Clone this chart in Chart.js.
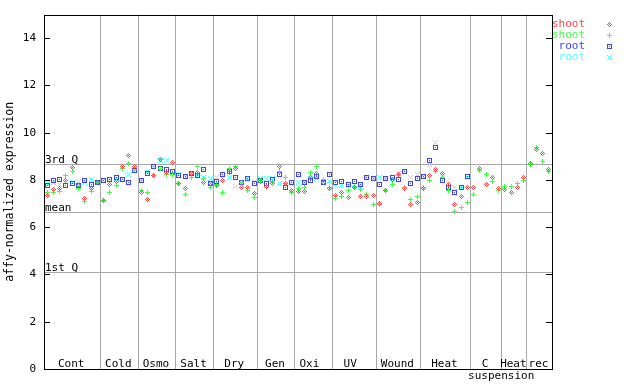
<!DOCTYPE html>
<html><head><meta charset="utf-8">
<script src="https://cdn.jsdelivr.net/npm/chart.js@4/dist/chart.umd.min.js"></script>
<style>html,body{margin:0;padding:0;background:#fff}</style>
</head><body>
<canvas id="c" width="640" height="384"></canvas>
<script>
// ---- data ----
const groupNames = ['Cont','Cold','Osmo','Salt','Dry','Gen','Oxi ','UV ','Wound','Heat','C','Heat','rec'];
const groupSubNames = ['','','','','','','','','','','suspension','',''];
const groupSizes = [9,6,6,6,7,6,6,7,7,8,5,4,4];
const quartileValues = [8.69, 6.63, 4.09];
const quartileNames = ['3rd Q','mean','1st Q'];
const seriesLabels = ['shoot','shoot','root','root'];
const yTickStep = 2;

const shootRed = [7.35,7.6,7.65,7.97,8.53,7.77,7.22,7.63,7.88,
 7.13,7.8,7.94,8.57,9.02,8.57,
 7.46,7.17,8.2,8.86,8.33,8.73,
 7.84,7.66,8.26,8.33,7.88,7.87,
 7.77,7.98,8.33,8.48,7.7,7.67,7.42,
 7.94,7.74,7.87,8.55,7.87,7.56,
 7.53,7.52,8.12,8.26,7.88,7.63,
 7.35,7.45,7.24,7.7,7.28,7.31,7.35,
 7.0,7.56,8.01,8.22,7.63,6.96,7.04,
 7.63,8.19,8.45,8.26,7.81,6.96,7.28,7.67,
 7.67,8.48,7.8,8.12,7.63,
 7.59,7.46,7.67,8.12,
 8.69,9.29,9.11,8.43];
const shootGreen = [7.45,7.46,7.53,8.18,8.38,7.66,7.08,7.53,7.88,
 7.13,7.46,7.76,8.48,8.69,8.43,
 7.56,7.46,8.2,8.48,8.24,8.22,
 7.84,7.38,8.1,8.57,8.05,7.7,
 7.8,7.46,8.5,8.58,7.91,7.56,7.25,
 7.98,7.7,7.95,8.36,8.09,7.46,
 7.63,7.67,8.3,8.57,8.01,7.7,
 7.21,7.31,7.56,7.7,7.6,7.39,6.96,
 6.96,7.56,7.8,8.22,7.7,7.18,7.28,
 7.67,7.98,8.34,8.12,7.56,6.68,6.82,7.04,
 7.38,8.41,8.22,7.95,7.56,
 7.74,7.74,7.84,7.98,
 8.64,9.39,8.78,8.34];
const rootBlue = [7.78,7.97,8.01,7.76,7.86,7.75,7.97,7.8,7.91,
 7.97,8.01,8.1,8.01,7.91,8.41,
 7.98,8.26,8.57,8.48,8.43,8.34,
 8.19,8.14,8.27,8.17,8.43,7.84,
 7.94,8.22,8.35,8.12,7.91,8.08,7.87,
 7.97,7.87,8.03,8.22,7.67,7.91,
 8.22,7.88,7.98,8.15,7.91,8.22,
 7.91,7.94,7.8,7.94,7.81,8.1,8.05,
 7.8,8.05,8.12,8.01,8.36,7.84,8.05,
 8.15,8.83,9.39,7.98,7.67,7.46,7.7,8.15,
 null,null,null,null,null,
 null,null,null,null,
 null,null,null,null];
const rootCyan = [7.87,7.9,7.8,7.91,7.91,7.94,7.91,8.01,7.91,
 7.97,7.98,8.07,8.01,8.25,8.46,
 7.97,8.34,8.55,8.83,8.81,8.27,
 8.22,8.16,8.26,8.2,8.12,8.08,
 8.12,8.08,8.1,7.74,7.91,8.02,7.95,
 8.05,8.05,8.07,7.84,7.8,7.81,
 7.91,7.9,8.08,8.05,7.91,7.95,
 7.77,7.78,7.78,7.83,7.74,8.1,8.05,
 8.1,8.05,8.08,8.26,8.34,8.12,8.22,
 8.15,8.64,9.57,8.1,7.67,7.67,7.7,8.12,
 null,null,null,null,null,
 null,null,null,null,
 null,null,null,null];

// ---- styling ----
const FONT = "'DejaVu Sans Mono', 'Liberation Mono', monospace";
const seriesColors = ['#ff4545','#40ff40','#4040ff','#55ffff'];
const seriesKinds = ['diamond','plus','square','x'];
const GRID = '#a8a8a8';

function marker(kind, color) {
  const c = document.createElement('canvas');
  c.width = 5; c.height = 5;
  const g = c.getContext('2d');
  g.fillStyle = color;
  for (let dx = -2; dx <= 2; dx++) for (let dy = -2; dy <= 2; dy++) {
    const ax = Math.abs(dx), ay = Math.abs(dy);
    let on = false;
    if (kind === 'diamond') on = (ax + ay === 2) || (ax === 0 && ay === 0);
    if (kind === 'square') on = (Math.max(ax, ay) === 2) || (ax === 0 && ay === 0);
    if (kind === 'plus') on = (dx === 0) || (dy === 0);
    if (kind === 'x') on = (ax === ay);
    if (on) g.fillRect(dx + 2, dy + 2, 1, 1);
  }
  return c;
}
const markers = seriesKinds.map((k, i) => marker(k, seriesColors[i]));

const totalSlots = groupSizes.reduce((a, b) => a + b, 0);
const bounds = [];
{ let acc = 0; groupSizes.forEach(s => { acc += s; bounds.push(acc); }); }
const innerBounds = bounds.slice(0, -1);

function toPoints(arr) {
  return arr.map((v, i) => v == null ? null : { x: i + 0.5, y: v }).filter(Boolean);
}
const allSeries = [shootRed, shootGreen, rootBlue, rootCyan];

const decor = {
  id: 'decor',
  beforeDatasetsDraw(chart) {
    const { ctx, chartArea: a, scales: { y } } = chart;
    ctx.save();
    ctx.strokeStyle = GRID; ctx.lineWidth = 1;
    ctx.fillStyle = '#000';
    ctx.font = '11px ' + FONT;
    ctx.textAlign = 'left'; ctx.textBaseline = 'alphabetic';
    quartileValues.forEach((v, i) => {
      const py = Math.round(y.getPixelForValue(v)) + 0.5;
      ctx.beginPath(); ctx.moveTo(a.left, py); ctx.lineTo(a.right, py); ctx.stroke();
      ctx.fillText(quartileNames[i], a.left + 1, py - 1.5);
    });
    ctx.restore();
    chart.ctx.imageSmoothingEnabled = false;
  },
  afterDraw(chart) {
    const { ctx, chartArea: a, scales: { x, y } } = chart;
    ctx.save();
    ctx.imageSmoothingEnabled = false;
    ctx.strokeStyle = '#000'; ctx.lineWidth = 1;
    ctx.strokeRect(Math.round(a.left) + 0.5, Math.round(a.top) + 0.5,
      Math.round(a.right) - Math.round(a.left), Math.round(a.bottom) - Math.round(a.top));
    ctx.beginPath();
    for (let v = 0; v <= 14; v += yTickStep) {
      const py = Math.round(y.getPixelForValue(v)) + 0.5;
      ctx.moveTo(a.left, py); ctx.lineTo(a.left + 6, py);
      ctx.moveTo(a.right - 6, py); ctx.lineTo(a.right, py);
    }
    ctx.stroke();
    ctx.fillStyle = '#000';
    ctx.font = '11px ' + FONT;
    ctx.textAlign = 'center'; ctx.textBaseline = 'alphabetic';
    let start = 0;
    groupSizes.forEach((s, i) => {
      const cx = x.getPixelForValue(start + s / 2) - 1;
      ctx.fillText(groupNames[i], cx, a.bottom - 2);
      if (groupSubNames[i]) ctx.fillText(groupSubNames[i], cx + 16, a.bottom + 10);
      start += s;
    });
    ctx.textAlign = 'right'; ctx.textBaseline = 'middle';
    seriesLabels.forEach((lab, i) => {
      const ly = 24 + i * 10.9;
      ctx.fillStyle = seriesColors[i];
      ctx.fillText(lab, 585, ly);
      ctx.drawImage(markers[i], 607, Math.round(ly) - 2);
    });
    ctx.restore();
  }
};

new Chart(document.getElementById('c'), {
  type: 'scatter',
  data: {
    datasets: allSeries.map((arr, i) => ({
      label: seriesLabels[i],
      data: toPoints(arr),
      pointStyle: markers[i],
      pointRadius: 3,
      pointHoverRadius: 3,
      borderColor: seriesColors[i],
      backgroundColor: seriesColors[i]
    }))
  },
  options: {
    responsive: false,
    animation: false,
    events: [],
    layout: { padding: { top: 13, right: 88, left: 0, bottom: 0 } },
    plugins: { legend: { display: false }, tooltip: { enabled: false } },
    scales: {
      x: {
        type: 'linear', min: 0, max: totalSlots,
        afterBuildTicks: s => { s.ticks = innerBounds.map(v => ({ value: v })); },
        afterFit: s => { s.height = 15; },
        ticks: { display: false },
        grid: { color: GRID, lineWidth: 1, drawTicks: false },
        border: { display: false }
      },
      y: {
        min: 0, max: 15,
        afterBuildTicks: s => { s.ticks = s.ticks.filter(t => t.value <= 14); },
        afterFit: s => { s.width = 44; },
        ticks: { stepSize: yTickStep, color: '#000', padding: 8, font: { family: FONT, size: 11 } },
        grid: { display: false, drawTicks: false },
        border: { display: false },
        title: { display: true, text: 'affy-normalized expression', color: '#000',
                 font: { family: FONT, size: 11.5 }, padding: { top: 3, bottom: 0 } }
      }
    }
  },
  plugins: [decor]
});
</script>
</body></html>
